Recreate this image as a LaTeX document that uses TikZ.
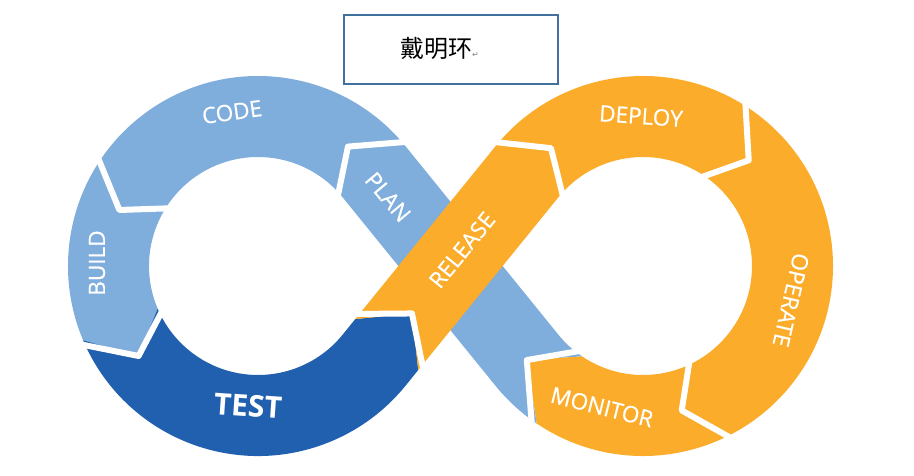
\documentclass[tikz,border=0pt]{standalone}
\usepackage{fontspec}
\setmainfont{Open Sans}
\newfontfamily\cjk{Noto Sans CJK SC}
\newfontfamily\dejavu{DejaVu Sans}
\usetikzlibrary{calc}
\definecolor{lblue}{RGB}{127,173,220}
\definecolor{dblue}{RGB}{33,96,175}
\definecolor{orng}{RGB}{250,172,42}
\definecolor{boxc}{RGB}{65,113,156}
\begin{document}
\begin{tikzpicture}[x=1pt,y=1pt,
  gap/.style={draw=white,line width=6pt,line join=round,line cap=butt},
  lbl/.style={text=white,font=\fontsize{22.5}{22.5}\selectfont\addfontfeature{FakeBold=0.6},inner sep=0pt},
  titlebox/.style={draw=boxc,line width=1.8pt,minimum width=214pt,minimum height=69pt,inner sep=0pt}]
\useasboundingbox (0,0) rectangle (914,475);
\coordinate (C1) at (258,209);
\coordinate (C2) at (643,209);
\coordinate (L) at ([shift={(-39:149.5)}]C1);
\coordinate (E1) at ($(L)+(51:20)+(141:40.5)$);
\coordinate (T) at ($(L)+(51:60)$);
\coordinate (E2) at ($(L)+(51:20)+(-39:40.5)$);
% light blue: CODE, BUILD, PLAN
\fill[lblue] ([shift={(39:190)}]C1) arc[start angle=39,end angle=203,radius=190]
  -- ([shift={(217:149.5)}]C1) -- ([shift={(203:109)}]C1)
  arc[start angle=203,end angle=39,radius=109]
  -- ([shift={(219:190)}]C2) arc[start angle=219,end angle=236,radius=190]
  -- ([shift={(219:149.5)}]C2) -- ([shift={(236:109)}]C2)
  arc[start angle=236,end angle=219,radius=109] -- cycle;
% dark blue: TEST
\fill[dblue] ([shift={(203:190)}]C1) arc[start angle=203,end angle=321,radius=190]
  -- (E2) -- (T) -- (E1) -- ([shift={(321:109)}]C1)
  arc[start angle=321,end angle=203,radius=109]
  -- ([shift={(217:149.5)}]C1) -- cycle;
% orange: RELEASE, DEPLOY, OPERATE, MONITOR
\fill[orng] (E1) -- (T) -- (E2) -- ([shift={(141:109)}]C2)
  arc[start angle=141,end angle=-124,radius=109]
  -- ([shift={(-141:149.5)}]C2) -- ([shift={(-124:190)}]C2)
  arc[start angle=-124,end angle=141,radius=190] -- cycle;
% white gaps
\draw[gap] ([shift={(39:198)}]C1) -- ([shift={(53:149.5)}]C1) -- ([shift={(39:101)}]C1);
\draw[gap] ([shift={(145:198)}]C1) -- ([shift={(158:149.5)}]C1) -- ([shift={(145:101)}]C1);
\draw[gap] ([shift={(203:198)}]C1) -- ([shift={(217:149.5)}]C1) -- ([shift={(203:101)}]C1);
\draw[gap] ($(E1)+(141:8)$) -- (T) -- ($(E2)+(-39:8)$);
\draw[gap] ([shift={(141:198)}]C2) -- ([shift={(128:149.5)}]C2) -- ([shift={(141:101)}]C2);
\draw[gap] ([shift={(59:198)}]C2) -- ([shift={(45:149.5)}]C2) -- ([shift={(59:101)}]C2);
\draw[gap] ([shift={(-62:198)}]C2) -- ([shift={(-75:149.5)}]C2) -- ([shift={(-62:101)}]C2);
\draw[gap] ([shift={(-124:198)}]C2) -- ([shift={(-141:149.5)}]C2) -- ([shift={(-124:101)}]C2);
% labels
\node[lbl,rotate=8] (code) at (232,363) {CODE};
\node[lbl,rotate=-50] (plan) at (388,278) {PLAN};
\node[lbl,rotate=90] (build) at (97,212) {BUILD};
\node[lbl,rotate=-4,font=\fontsize{30}{30}\selectfont\bfseries] (test) at (248,69) {TEST};
\node[lbl,rotate=51] (release) at (462,225) {RELEASE};
\node[lbl,rotate=-4] (deploy) at (641,359) {DEPLOY};
\node[lbl,rotate=-103] (operate) at (791,175) {OPERATE};
\node[lbl,rotate=-14] (monitor) at (602,68) {MONITOR};
% title box
\node[titlebox] (box) at (451,425.5) {};
\node[inner sep=0pt,anchor=base west] (title) at (400,417) {\cjk\fontsize{24}{24}\selectfont 戴明环\textcolor{gray}{\dejavu\fontsize{8}{8}\selectfont ↵}};
\end{tikzpicture}
\end{document}
